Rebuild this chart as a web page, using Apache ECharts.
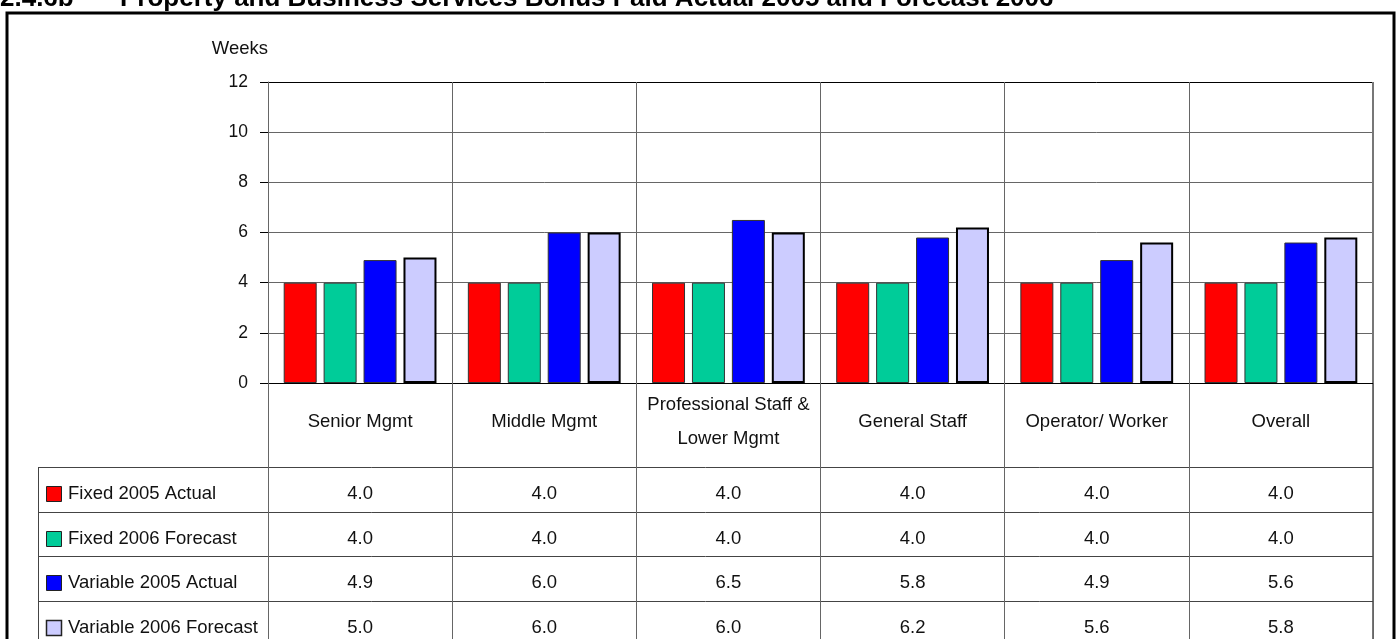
<!DOCTYPE html>
<html>
<head>
<meta charset="utf-8">
<script src="https://cdn.jsdelivr.net/npm/echarts@6/dist/echarts.min.js"></script>
<style>
  html, body { margin: 0; padding: 0; background: #fff; }
  #chart { width: 1400px; height: 639px; }
</style>
</head>
<body>
<div id="chart"></div>
<script>
// Bonus paid (weeks of salary) by staff level
const categories = ['Senior Mgmt', 'Middle Mgmt', 'Professional Staff &\nLower Mgmt', 'General Staff', 'Operator/ Worker', 'Overall'];
const seriesNames = ['Fixed 2005 Actual', 'Fixed 2006 Forecast', 'Variable 2005 Actual', 'Variable 2006 Forecast'];
const fixed2005Actual = [4.0, 4.0, 4.0, 4.0, 4.0, 4.0];
const fixed2006Forecast = [4.0, 4.0, 4.0, 4.0, 4.0, 4.0];
const variable2005Actual = [4.9, 6.0, 6.5, 5.8, 4.9, 5.6];
const variable2006Forecast = [5.0, 6.0, 6.0, 6.2, 5.6, 5.8];
const yTickValues = [0, 2, 4, 6, 8, 10, 12];
const titleNumber = '2.4.6b';
const titleText = 'Property and Business Services Bonus Paid Actual 2005 and Forecast 2006';
const yAxisTitle = 'Weeks';

const seriesValues = [fixed2005Actual, fixed2006Forecast, variable2005Actual, variable2006Forecast];
const FONT = "'Liberation Sans', Arial, sans-serif";
const TEXT_SIZE = 18.5;
const seriesStyles = [
  { color: '#FF0000', borderColor: '#333', borderWidth: 1 },
  { color: '#00CC99', borderColor: '#333', borderWidth: 1 },
  { color: '#0000FF', borderColor: '#333', borderWidth: 1 },
  { color: '#CCCCFF', borderColor: '#000', borderWidth: 2 }
];

const chart = echarts.init(document.getElementById('chart'), null, { renderer: 'canvas' });

const gridLineColors = yTickValues.map((v, i) => (i === 0 || i === yTickValues.length - 1) ? '#000' : '#666');

const option = {
  animation: false,
  backgroundColor: '#fff',
  grid: { left: 268, right: 27, top: 82, bottom: 256, containLabel: false },
  xAxis: {
    type: 'category',
    data: categories,
    axisLine: { show: true, lineStyle: { color: '#000', width: 1 } },
    axisTick: { show: true, length: 270, lineStyle: { color: '#666', width: 1 } },
    axisLabel: {
      interval: 0, margin: 39, verticalAlign: 'middle',
      fontFamily: FONT, fontSize: TEXT_SIZE, color: '#111', lineHeight: 34
    },
    splitLine: { show: true, lineStyle: { color: '#666', width: 1 } }
  },
  yAxis: {
    type: 'value',
    min: yTickValues[0],
    max: yTickValues[yTickValues.length - 1],
    interval: 2,
    name: yAxisTitle,
    nameLocation: 'end',
    nameGap: 24,
    nameTextStyle: { align: 'right', fontFamily: FONT, fontSize: TEXT_SIZE, color: '#111' },
    axisLine: { show: true, lineStyle: { color: '#666', width: 1 } },
    axisTick: { show: true, length: 8, lineStyle: { color: '#000' } },
    axisLabel: { margin: 20, fontFamily: FONT, fontSize: 17.5, color: '#111' },
    splitLine: { show: true, lineStyle: { color: gridLineColors, width: 1 } }
  },
  series: seriesNames.map((name, i) => ({
    name,
    type: 'bar',
    data: seriesValues[i],
    barWidth: 33,
    barGap: '21%',
    itemStyle: seriesStyles[i]
  }))
};

chart.setOption(option);

// Data table under the plot, aligned to the category axis
function buildTable() {
  const c0 = chart.convertToPixel({ xAxisIndex: 0 }, 0);
  const c1 = chart.convertToPixel({ xAxisIndex: 0 }, 1);
  const band = c1 - c0;
  const plotLeft = c0 - band / 2;
  const plotRight = plotLeft + band * categories.length;
  const tableLeft = 38;
  const tableTop = 467;
  const rowH = 44.7;
  const els = [];

  // outer frame
  els.push({ type: 'rect', shape: { x: 7, y: 13, width: 1387, height: 660 },
    style: { fill: null, stroke: '#000', lineWidth: 3 }, z: 10 });

  // title, partly above the page edge
  els.push({ type: 'text', x: 0, y: -1, style: { text: titleNumber, font: 'bold 26px ' + FONT, fill: '#000', verticalAlign: 'middle' } });
  els.push({ type: 'text', x: 120, y: -1, style: { text: titleText, font: 'bold 26px ' + FONT, fill: '#000', verticalAlign: 'middle' } });

  // right plot edge, heavier
  els.push({ type: 'line', shape: { x1: plotRight, y1: 82, x2: plotRight, y2: 660 }, style: { stroke: '#777', lineWidth: 2 } });

  // table rule lines
  for (let r = 0; r <= seriesNames.length; r++) {
    const y = Math.round(tableTop + r * rowH) + 0.5;
    els.push({ type: 'line', shape: { x1: tableLeft, y1: y, x2: plotRight, y2: y }, style: { stroke: '#444', lineWidth: 1 } });
  }
  els.push({ type: 'line', shape: { x1: tableLeft + 0.5, y1: tableTop, x2: tableLeft + 0.5, y2: 660 }, style: { stroke: '#444', lineWidth: 1 } });

  seriesNames.forEach((name, r) => {
    const cy = tableTop + r * rowH + 27;
    const st = seriesStyles[r];
    els.push({ type: 'rect', shape: { x: 46.5, y: Math.round(cy - 8) + 0.5, width: 15, height: 15 },
      style: { fill: st.color, stroke: '#222', lineWidth: st.borderWidth > 1 ? 1.5 : 1 } });
    els.push({ type: 'text', x: 68, y: cy, style: { text: name, font: TEXT_SIZE + 'px ' + FONT, fill: '#111', verticalAlign: 'middle', align: 'left' } });
    seriesValues[r].forEach((v, i) => {
      const cx = chart.convertToPixel({ xAxisIndex: 0 }, i);
      els.push({ type: 'text', x: cx, y: cy, style: { text: v.toFixed(1), font: TEXT_SIZE + 'px ' + FONT, fill: '#111', verticalAlign: 'middle', align: 'center' } });
    });
  });

  chart.setOption({ graphic: { elements: els } });
}
buildTable();
</script>
</body>
</html>
